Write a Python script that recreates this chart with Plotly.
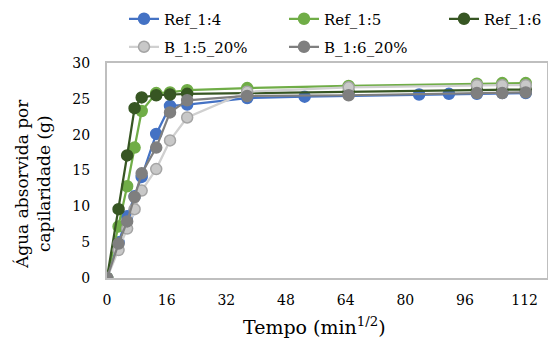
import plotly.graph_objects as go

# Time axis (square root of minutes) shared by most series
t_common = [0, 3.1, 5.4, 7.4, 9.3, 13.2, 16.9, 21.5, 37.6, 64.8, 99.2, 106.0, 112.3]
# Ref_1:4 was read on a slightly different schedule
t_ref14 = [0, 3.1, 5.4, 7.4, 9.3, 13.2, 16.9, 21.5, 37.6, 53.0, 83.7, 91.7, 99.2, 106.0, 112.3]

ref_14 = [0, 5.0, 8.6, 11.4, 14.1, 20.1, 24.0, 24.2, 25.1, 25.3, 25.6, 25.7, 25.7, 25.8, 25.8]
ref_15 = [0, 7.2, 12.8, 18.2, 23.3, 25.8, 25.9, 26.2, 26.5, 26.8, 27.1, 27.2, 27.2]
ref_16 = [0, 9.6, 17.1, 23.7, 25.2, 25.5, 25.6, 25.7, 25.8, 26.0, 26.2, 26.3, 26.3]
b_15_20 = [0, 3.9, 6.9, 9.6, 12.2, 15.2, 19.2, 22.4, 26.0, 26.6, 26.9, 26.9, 26.9]
b_16_20 = [0, 4.8, 7.9, 11.3, 14.6, 18.2, 23.1, 24.8, 25.4, 25.5, 25.8, 25.8, 25.9]

x_ticks = [0, 16, 32, 48, 64, 80, 96, 112]
y_ticks = [0, 5, 10, 15, 20, 25, 30]

FONT = "DejaVu Serif"

L, T, R, B = 107, 63, 1, 62
W, H = 548, 340
pw, ph = W - L - R, H - T - B


def px_x(px):
    return (px - L) / pw


def px_y(py):
    return (H - B - py) / ph


# name, x, y, line colour, marker fill, marker edge, legend slot (left px, row centre px)
series = [
    ("Ref_1:4", t_ref14, ref_14, "#4472C4", "#4472C4", "#4472C4", (124, 19)),
    ("Ref_1:5", t_common, ref_15, "#70AD47", "#70AD47", "#70AD47", (284, 19)),
    ("Ref_1:6", t_common, ref_16, "#375623", "#375623", "#375623", (444, 19)),
    ("B_1:5_20%", t_common, b_15_20, "#D0D0D0", "#C8C8C8", "#A5A5A5", (124, 47)),
    ("B_1:6_20%", t_common, b_16_20, "#7F7F7F", "#7F7F7F", "#7F7F7F", (284, 47)),
]

fig = go.Figure()
legends = {}
for i, (name, xs, ys, lc, mc, mlc, (lx, ly)) in enumerate(series):
    key = "legend" if i == 0 else f"legend{i + 1}"
    fig.add_trace(go.Scatter(
        x=xs, y=ys, name=name, mode="lines+markers",
        line=dict(color=lc, width=2.25),
        marker=dict(size=11, color=mc, line=dict(color=mlc, width=1.5)),
        legend=key,
    ))
    legends[key] = dict(
        x=px_x(lx), y=px_y(ly), xanchor="left", yanchor="middle",
        orientation="h",
        font=dict(family=FONT, size=15, color="#000000"),
        bgcolor="rgba(0,0,0,0)", borderwidth=0, itemclick=False,
    )

fig.update_layout(
    width=W, height=H,
    margin=dict(l=L, r=R, t=T, b=B, autoexpand=False),
    paper_bgcolor="white", plot_bgcolor="white",
    font=dict(family=FONT, size=15, color="#000000"),
    showlegend=True,
    xaxis=dict(
        range=[0, 118], tickvals=x_ticks, ticktext=[str(v) for v in x_ticks],
        showgrid=False, zeroline=False, showline=True, mirror=True,
        linecolor="#BFBFBF", linewidth=2, ticks="",
        ticklabelstandoff=8, tickfont=dict(family=FONT, size=14),
    ),
    yaxis=dict(
        range=[0, 30], tickvals=y_ticks, ticktext=[str(v) for v in y_ticks],
        showgrid=False, zeroline=False, showline=True, mirror=True,
        linecolor="#BFBFBF", linewidth=2, ticks="",
        ticklabelstandoff=12, tickfont=dict(family=FONT, size=14),
    ),
    annotations=[
        dict(text="Tempo (min<sup>1/2</sup>)", xref="paper", yref="paper",
             x=px_x(314), y=px_y(326), xanchor="center", yanchor="middle",
             showarrow=False, font=dict(family=FONT, size=19)),
        dict(text="Água absorvida por<br>capilaridade (g)", xref="paper", yref="paper",
             x=px_x(33), y=px_y(184), xanchor="center", yanchor="middle",
             textangle=-90, showarrow=False, font=dict(family=FONT, size=17)),
    ],
    **legends,
)

fig.write_html("out.html")
